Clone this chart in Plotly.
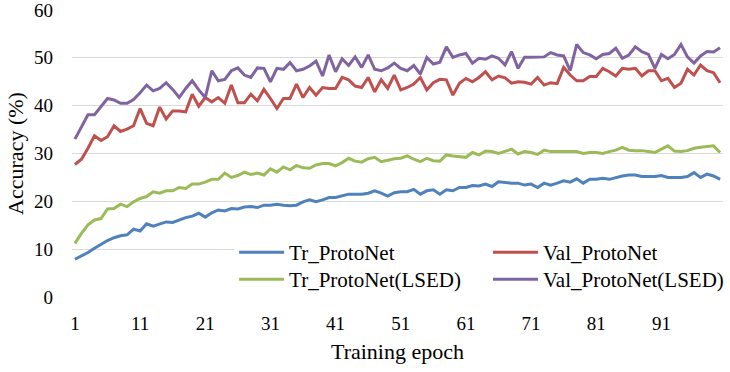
import plotly.graph_objects as go

epochs = list(range(1, 101))

tr_protonet = [
    7.9, 8.6, 9.3, 10.2, 11.0, 11.8, 12.4, 12.8, 13.0, 14.2,
    13.8, 15.3, 14.8, 15.2, 15.7, 15.6, 16.1, 16.6, 16.9, 17.5,
    16.7, 17.6, 18.2, 18.0, 18.5, 18.4, 18.8, 18.9, 18.7, 19.2,
    19.2, 19.4, 19.2, 19.1, 19.2, 19.9, 20.3, 19.9, 20.3, 20.8,
    20.8, 21.2, 21.5, 21.5, 21.5, 21.7, 22.2, 21.7, 21.1, 21.8,
    22.0, 22.0, 22.5, 21.5, 22.2, 22.4, 21.5, 22.4, 22.2, 22.9,
    22.9, 23.3, 23.2, 23.6, 23.1, 24.1, 23.9, 23.8, 23.8, 23.4,
    23.6, 22.9, 23.8, 23.4, 23.8, 24.3, 24.0, 24.7, 23.8, 24.6,
    24.6, 24.8, 24.6, 25.0, 25.3, 25.5, 25.5, 25.2, 25.2, 25.2,
    25.4, 25.0, 25.0, 25.0, 25.2, 26.0, 25.0, 25.7, 25.3, 24.6,
]

val_protonet = [
    27.7, 28.8, 31.1, 33.7, 32.7, 33.5, 35.8, 34.6, 35.1, 35.8,
    39.4, 36.3, 35.8, 39.7, 37.2, 38.9, 38.9, 38.7, 42.4, 39.9,
    41.7, 40.8, 41.7, 40.5, 44.3, 40.6, 40.6, 42.4, 41.0, 43.4,
    41.5, 39.4, 41.5, 41.5, 44.5, 41.7, 43.8, 42.2, 43.8, 43.6,
    43.6, 45.9, 45.4, 44.1, 43.8, 45.9, 42.9, 45.4, 43.6, 46.4,
    43.3, 43.8, 44.5, 45.9, 43.3, 44.8, 45.5, 45.4, 42.2, 44.7,
    45.7, 45.0, 45.9, 47.1, 45.4, 46.2, 45.8, 44.7, 45.0, 44.9,
    44.5, 45.9, 44.3, 44.8, 44.6, 48.0, 46.4, 45.2, 45.2, 46.1,
    46.1, 47.8, 47.1, 46.2, 47.8, 47.6, 47.8, 46.2, 47.3, 47.3,
    45.2, 45.7, 43.8, 44.7, 47.6, 46.4, 48.5, 47.3, 46.9, 44.8,
]

tr_protonet_lsed = [
    11.2, 13.3, 15.1, 16.1, 16.4, 18.4, 18.5, 19.4, 18.9, 19.9,
    20.6, 21.0, 22.0, 21.7, 22.2, 22.2, 22.9, 22.7, 23.6, 23.6,
    24.0, 24.6, 24.6, 25.9, 25.0, 25.4, 26.1, 25.6, 25.9, 25.5,
    26.8, 26.1, 27.2, 26.6, 27.5, 27.0, 26.9, 27.6, 27.9, 27.9,
    27.4, 28.1, 29.0, 28.4, 28.2, 28.9, 29.2, 28.3, 28.6, 28.9,
    29.0, 29.5, 28.8, 28.3, 29.0, 28.5, 28.4, 29.7, 29.5, 29.3,
    29.2, 30.2, 29.7, 30.5, 30.4, 30.0, 30.4, 30.9, 29.9, 30.4,
    30.2, 29.8, 30.7, 30.4, 30.4, 30.4, 30.4, 30.4, 30.0, 30.2,
    30.2, 30.0, 30.4, 30.7, 31.3, 30.7, 30.6, 30.6, 30.4, 30.2,
    30.9, 31.6, 30.5, 30.4, 30.6, 31.1, 31.3, 31.4, 31.6, 30.2,
]

val_protonet_lsed = [
    33.0, 35.6, 38.1, 38.1, 39.9, 41.5, 41.2, 40.5, 40.5, 41.3,
    42.7, 44.3, 43.1, 43.6, 44.8, 43.4, 41.7, 43.6, 45.2, 43.3,
    41.7, 47.3, 45.2, 45.5, 47.3, 47.9, 46.4, 45.9, 47.9, 47.8,
    45.0, 47.8, 47.6, 49.0, 47.3, 47.6, 48.3, 49.3, 46.2, 50.6,
    47.1, 49.8, 48.4, 50.2, 48.0, 50.6, 47.6, 47.3, 47.9, 48.9,
    47.8, 47.3, 48.4, 46.6, 50.1, 48.7, 49.1, 52.3, 50.1, 50.6,
    50.9, 48.9, 49.9, 49.7, 50.4, 49.9, 48.5, 51.3, 47.8, 50.1,
    50.1, 50.2, 50.2, 51.1, 50.6, 50.4, 47.3, 52.8, 51.1, 50.6,
    49.8, 50.7, 50.9, 52.0, 49.9, 50.6, 52.3, 51.3, 50.7, 47.8,
    50.7, 49.8, 50.7, 52.8, 50.2, 48.9, 50.4, 51.3, 51.2, 52.1,
]

x_ticks = [1, 11, 21, 31, 41, 51, 61, 71, 81, 91]

# one legend per entry so the 2x2 block can be placed like the original
series = [
    ("Tr_ProtoNet", tr_protonet, "#4F81BD", "legend"),
    ("Val_ProtoNet", val_protonet, "#C0504D", "legend2"),
    ("Tr_ProtoNet(LSED)", tr_protonet_lsed, "#9BBB59", "legend3"),
    ("Val_ProtoNet(LSED)", val_protonet_lsed, "#8064A2", "legend4"),
]

fig = go.Figure()
for name, vals, color, leg in series:
    fig.add_trace(go.Scatter(
        x=epochs,
        y=vals,
        mode='lines',
        name=name,
        legend=leg,
        showlegend=True,
        line=dict(color=color, width=3)))

legend_style = dict(
    orientation='h',
    xref='paper', yref='paper',
    yanchor='top',
    font=dict(family='Liberation Serif', size=21, color='black'),
    itemwidth=45,
    visible=True,
)

row1, row2 = 0.2265, 0.132
col1, col2 = 0.249, 0.639
clear = 'rgba(0,0,0,0)'

fig.update_layout(
    width=730,
    height=372,
    showlegend=True,
    margin=dict(l=72, r=7, t=10, b=75, autoexpand=False),
    paper_bgcolor='white',
    plot_bgcolor='white',
    font=dict(family='Liberation Serif', size=19, color='black'),
    legend=dict(legend_style, x=col1, y=row1, entrywidth=255, bgcolor='white'),
    legend2=dict(legend_style, x=col2, y=row1, entrywidth=240, bgcolor='white'),
    legend3=dict(legend_style, x=col1, y=row2, entrywidth=255, bgcolor=clear),
    legend4=dict(legend_style, x=col2, y=row2, entrywidth=240, bgcolor=clear),
    xaxis=dict(
        range=[0.55, 100.45],
        tickvals=x_ticks,
        showgrid=False,
        zeroline=False,
        showline=False,
        ticks='',
        automargin=False,
        ticklabelstandoff=13,
        title=dict(text='Training epoch', font=dict(size=22), standoff=10),
    ),
    yaxis=dict(
        range=[0, 60],
        dtick=10,
        showgrid=True,
        gridcolor='#D9D9D9',
        gridwidth=1.3,
        zeroline=False,
        showline=False,
        ticks='',
        automargin=False,
        ticklabeloverflow='allow',
        ticklabelstandoff=18,
        title=dict(text='Accuracy (%)', font=dict(size=22), standoff=4),
    ),
)

fig.write_html("out.html", config={'displayModeBar': False},
               post_script="document.body.style.margin='0';")
